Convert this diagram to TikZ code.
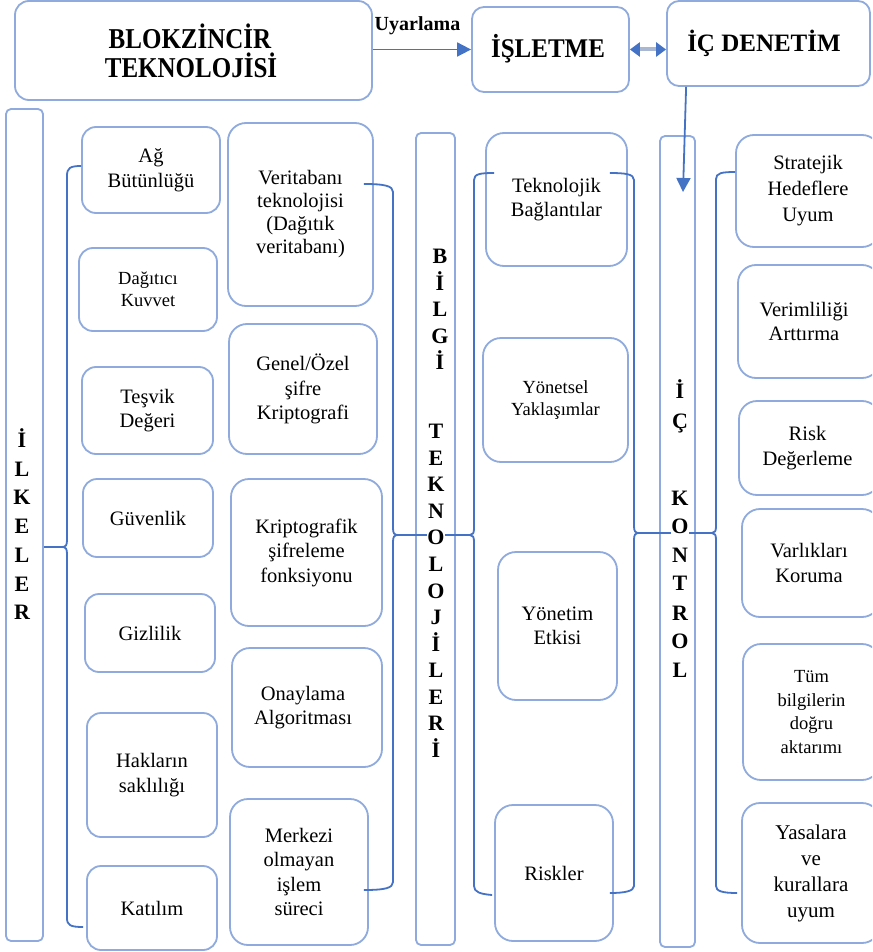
\documentclass[tikz,border=0pt]{standalone}
\usepackage{fontspec}
\usepackage{graphicx}
\setmainfont{Liberation Serif}
\usetikzlibrary{arrows.meta,calc}
\definecolor{boxblue}{HTML}{8FAADC}
\definecolor{linkblue}{HTML}{4472C4}
\definecolor{shaftgray}{HTML}{A9B7D3}
\begin{document}
\begin{tikzpicture}[x=1pt,y=-1pt,
  box/.style={draw=boxblue, line width=1.8pt, rounded corners=14pt, fill=white, align=center, inner sep=0pt,
    font=\fontsize{20.5}{24.5}\selectfont},
  smalltxt/.style={font=\fontsize{18.5}{22}\selectfont},
  bar/.style={draw=boxblue, line width=1.8pt, rounded corners=5pt, fill=white, inner sep=0pt},
  barletter/.style={font=\fontsize{22}{22}\selectfont\bfseries, inner sep=0.6pt, fill=white, anchor=base},
  titleline/.style={inner sep=0pt, anchor=base, font=\fontsize{25}{27}\selectfont\bfseries},
  link/.style={draw=linkblue, line width=1.8pt},
  arrowhead/.style={-{Triangle[length=14pt,width=14pt]}}
]
\clip (0,0) rectangle (872,952);
\useasboundingbox (0,0) rectangle (872,952);

% ---------- top row ----------
\node[box, minimum width=357pt, minimum height=99pt] (blok) at (193.5,50.5) {};
\node[titleline] (bloktxta) at (190,49) {\scalebox{1}[1.15]{BLOKZİNCİR}};
\node[titleline] (bloktxtb) at (191,78) {\scalebox{1}[1.15]{TEKNOLOJİSİ}};
\node[box, rounded corners=12pt, minimum width=157pt, minimum height=85pt] (islet) at (550.5,49.5) {};
\node[titleline] (islettxt) at (548,58) {\scalebox{1}[1.08]{İŞLETME}};
\node[box, rounded corners=12pt, minimum width=203pt, minimum height=85pt] (icden) at (768.5,43.5) {};
\node[titleline] (icdentxt) at (764,52) {İÇ DENETİM};

% ---------- bars ----------
\node[bar, minimum width=37pt, minimum height=832pt] (ilk) at (24.5,525) {};
\node[bar, minimum width=39pt, minimum height=812pt] (bil) at (435.5,539) {};
\node[bar, minimum width=35pt, minimum height=811pt] (ick) at (677.5,541.5) {};

% ---------- column 1 ----------
\node[box, minimum width=138pt, minimum height=86pt] (ag) at (151,170) {Ağ\\Bütünlüğü};
\node[box, smalltxt, minimum width=138pt, minimum height=83pt] (dag) at (148,289.5) {Dağıtıcı\\Kuvvet};
\node[box, minimum width=131pt, minimum height=87pt] (tes) at (147.5,410.5) {Teşvik\\Değeri};
\node[box, minimum width=130pt, minimum height=78pt] (guv) at (148,518) {Güvenlik};
\node[box, minimum width=130pt, minimum height=78pt] (giz) at (150,633) {Gizlilik};
\node[box, minimum width=130pt, minimum height=124pt] (hak) at (152,775) {Hakların\\saklılığı};
\node[box, minimum width=130pt, minimum height=84pt] (kat) at (152,908) {Katılım};

% ---------- column 2 ----------
\node[box, rounded corners=18pt, font=\fontsize{20.5}{23}\selectfont, minimum width=145pt, minimum height=183pt] (ver) at (300.5,214.5) {Veritabanı\\teknolojisi\\(Dağıtık\\veritabanı)};
\node[box, rounded corners=18pt, minimum width=148pt, minimum height=130pt] (gen) at (303,389) {Genel/Özel\\şifre\\Kriptografi};
\node[box, rounded corners=18pt, minimum width=151pt, minimum height=147pt] (kri) at (306.5,552.5) {Kriptografik\\şifreleme\\fonksiyonu};
\node[box, rounded corners=18pt, minimum width=150pt, minimum height=119pt] (ona) at (307,707.5) {Onaylama\hspace*{8pt}\\Algoritması\hspace*{8pt}};
\node[box, rounded corners=18pt, minimum width=138pt, minimum height=146pt] (mer) at (299,872) {Merkezi\\olmayan\\işlem\\süreci};

% ---------- column 3 ----------
\node[box, rounded corners=18pt, minimum width=141pt, minimum height=133pt] (tek) at (556.5,199.5) {Teknolojik\\Bağlantılar};
\node[box, rounded corners=18pt, smalltxt, minimum width=145pt, minimum height=124pt] (yon) at (555.5,400) {Yönetsel\\Yaklaşımlar};
\node[box, rounded corners=18pt, minimum width=119pt, minimum height=148pt] (yone) at (557.5,626) {Yönetim\\Etkisi};
\node[box, rounded corners=18pt, minimum width=118pt, minimum height=136pt] (ris) at (554,873) {Riskler};

% ---------- column 4 ----------
\node[box, rounded corners=18pt, font=\fontsize{20.5}{26}\selectfont, minimum width=144pt, minimum height=112pt] (str) at (808,191) {Stratejik\\Hedeflere\\Uyum};
\node[box, rounded corners=18pt, minimum width=142pt, minimum height=113pt] (vrm) at (809,321.5) {Verimliliği\hspace*{10pt}\\Arttırma\hspace*{10pt}};
\node[box, rounded corners=18pt, minimum width=141pt, minimum height=94pt] (rsk) at (809.5,448) {Risk\hspace*{4pt}\\Değerleme\hspace*{4pt}};
\node[box, rounded corners=18pt, minimum width=138pt, minimum height=108pt] (var) at (811,563) {Varlıkları\hspace*{4pt}\\Koruma\hspace*{4pt}};
\node[box, rounded corners=18pt, font=\fontsize{18.5}{23.5}\selectfont, minimum width=137pt, minimum height=136pt] (tum) at (811.5,712) {Tüm\\bilgilerin\\doğru\\aktarımı};
\node[box, rounded corners=18pt, font=\fontsize{21}{26}\selectfont, minimum width=138pt, minimum height=140pt] (yas) at (811,873) {Yasalara\\ve\\kurallara\\uyum};

% ---------- top arrows ----------
\draw[link, arrowhead] (blok.east |- islet.west) -- (islet.west);
\node[anchor=base, inner sep=0pt, font=\fontsize{20}{22}\selectfont\bfseries] (uyar) at (417.5,31) {Uyarlama};
\draw[line width=4pt, draw=shaftgray,
  {Triangle[length=10pt,width=14pt,color=linkblue]}-{Triangle[length=10pt,width=14pt,color=linkblue]}]
  (islet.east) -- (islet.east -| icden.west);
\coordinate (dentip) at (683,192);
\draw[link, arrowhead] ($(icden.south west)+(20,0)$) -- (dentip);

% ---------- braces ----------
\coordinate (tipA) at (62,547);
\coordinate (tipB) at (398,535);
\coordinate (tipC) at (470,535);
\coordinate (tipD) at (639,533);
\coordinate (tipE) at (712,533);

\draw[link] ($(ag.west)+(0,-4)$) .. controls (70,166) and (67,168) .. (67,176) -- (67,540)
  .. controls (67,545) and (66,547) .. (tipA) .. controls (66,547) and (67,549) .. (67,554)
  -- (67,918) .. controls (67,925) and (70,927) .. ($(kat.west)+(-3,19)$);
\draw[link] (ilk.east |- tipA) -- (tipA);

\draw[link] ($(ver.east)+(-10,-30.5)$) .. controls (385,184) and (393,186) .. (393,192) -- (393,528)
  .. controls (393,533) and (394,535) .. (tipB) .. controls (394,535) and (393,537) .. (393,542)
  -- (393,882) .. controls (393,888) and (385,890) .. ($(mer.east)+(-5,18)$);

\draw[link] ($(tek.west)+(9,-26.5)$) .. controls (480,173) and (474,174) .. (474,180) -- (474,528)
  .. controls (474,533) and (473,535) .. (tipC) .. controls (473,535) and (474,537) .. (474,542)
  -- (474,886) .. controls (474,892) and (480,894) .. ($(ris.west)+(-2,22)$);
\draw[link] (tipB) -- (tipC);

\draw[link] ($(tek.east)+(-18,-26.5)$) .. controls (625,173) and (634,174) .. (634,180) -- (634,526)
  .. controls (634,531) and (635,533) .. (tipD) .. controls (635,533) and (634,535) .. (634,540)
  -- (634,886) .. controls (634,891) and (625,893) .. ($(ris.east)+(-4,20)$);

\draw[link] ($(str.west)+(0,-19)$) .. controls (722,172) and (716,173) .. (716,179) -- (716,526)
  .. controls (716,531) and (715,533) .. (tipE) .. controls (715,533) and (716,535) .. (716,540)
  -- (716,886) .. controls (716,891) and (722,893) .. ($(yas.west)+(-4,20)$);
\draw[link] (tipD) -- (tipE);

% ---------- bar letters ----------
\foreach \l/\yy [count=\i] in {İ/447, L/476, K/504, E/533, L/562, E/591, R/619}
  \node[barletter] (ilkl\i) at (22,\yy) {\l};
\foreach \l/\yy [count=\i] in {B/263, İ/290, L/316, G/343, İ/369}
  \node[barletter] (bila\i) at (440,\yy) {\l};
\foreach \l/\yy [count=\i] in {T/438, E/465, K/491, N/518, O/544, L/571, O/598, J/624, İ/651, L/677, E/704, R/730, İ/757}
  \node[barletter] (bilb\i) at (436,\yy) {\l};
\foreach \l/\yy [count=\i] in {İ/398, Ç/428, K/505, O/533, N/562, T/590, R/620, O/648, L/677}
  \node[barletter] (ickl\i) at (680,\yy) {\l};
\end{tikzpicture}
\end{document}
